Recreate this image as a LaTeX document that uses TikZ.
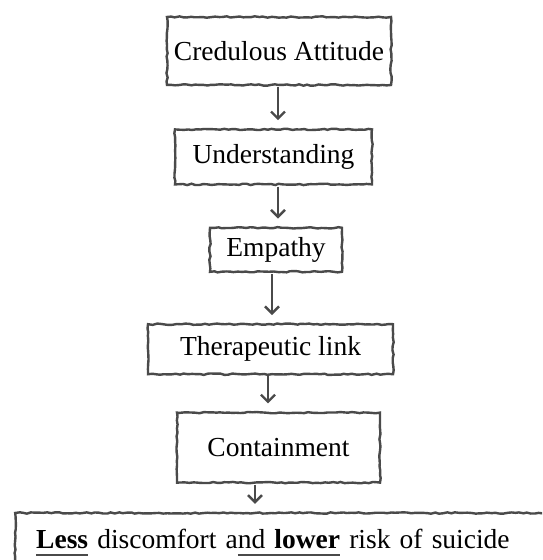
\documentclass[tikz,border=0pt]{standalone}
\usepackage{fontspec}
\setmainfont{Liberation Serif}
\usepackage{tikz}
\usetikzlibrary{positioning}
\usetikzlibrary{arrows.meta, decorations.pathmorphing}

\definecolor{pencil}{HTML}{4A4A4A}
\newsavebox\penbox
\newcommand\penul[1]{\sbox\penbox{#1}\rlap{\color{pencil}\rule[-7pt]{\wd\penbox}{1.8pt}}\usebox\penbox}

\tikzset{
  sketchbox/.style = {draw = pencil, line width = 2.4pt, rectangle,
      inner sep = 0pt, font = \fontsize{27.5}{32}\selectfont,
      decorate, decoration = {random steps, segment length = 4pt, amplitude = 0.7pt}},
  sketcharrow/.style = {draw = pencil, line width = 2.4pt,
      -{Straight Barb[length=7pt, width=14pt]},
      shorten < = 1pt, shorten > = 8pt}
}

\begin{document}
\pgfmathsetseed{7}
\begin{tikzpicture}
  \useasboundingbox (0,0) rectangle (542pt,-560pt);
  \clip (0,0) rectangle (542pt,-560pt);
  \node[sketchbox, minimum width=224pt, minimum height=68pt] (cred) at (279pt,-51pt) {Credulous Attitude};
  \node[sketchbox, minimum width=197pt, minimum height=55pt] (under) [below=42pt of cred, xshift=-5.5pt] {Understanding};
  \node[sketchbox, minimum width=132pt, minimum height=44pt] (emp) [below=41pt of under, xshift=2.5pt] {Empathy};
  \node[sketchbox, minimum width=245pt, minimum height=50pt] (link) [below=50pt of emp, xshift=-5.5pt] {Therapeutic link};
  \node[sketchbox, minimum width=203pt, minimum height=70pt] (cont) [below=36pt of link, xshift=8pt] {Containment};
  \node[sketchbox, minimum height=59pt, text width=530pt, inner xsep=21pt, align=left,
        anchor=north west] (risk) [below=28pt of cont.south, anchor=north west, xshift=-264.5pt]
        {\penul{\textbf{Less}} discomfort a\penul{nd \textbf{lower}} risk of suicide};
  \foreach \a/\b/\dx in {cred/under/-1, under/emp/4.5, emp/link/-4, link/cont/-2.5, cont/risk/-23.5}
    \draw[sketcharrow] ([xshift=\dx pt]\a.south) -- ([xshift=\dx pt]\a.south |- \b.north);
\end{tikzpicture}
\end{document}
